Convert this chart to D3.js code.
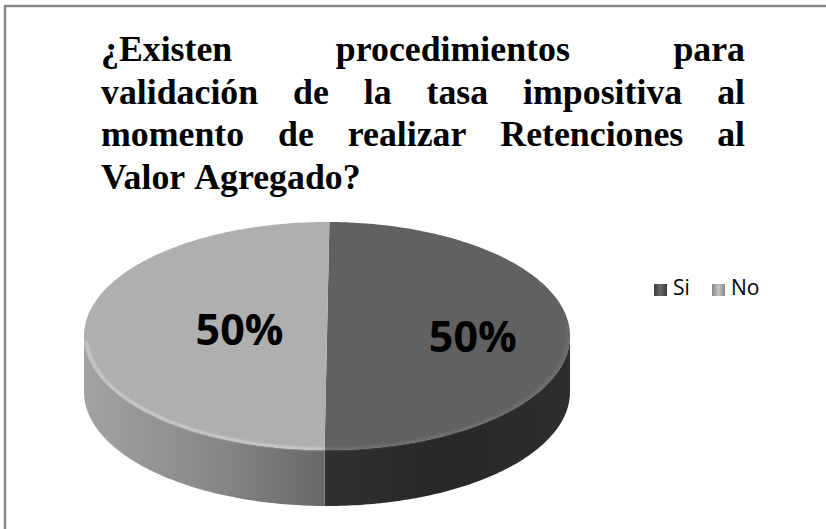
<!DOCTYPE html>
<meta charset="utf-8">
<style>
body { margin: 0; background: #fff; }
svg { display: block; }
.title { font-family: "Times New Roman", "Liberation Serif", Tinos, Times, serif; font-weight: bold; font-size: 35.8px; fill: #000; }
.label { font-family: "Open Sans", Lato, sans-serif; font-weight: bold; font-size: 43px; fill: #000; }
.legend text { font-family: "Open Sans", Lato, sans-serif; font-size: 21px; fill: #000; }
</style>
<body>
<script src="https://cdn.jsdelivr.net/npm/d3@7"></script>
<script>

var categories = ["Si", "No"];
var values = [50, 50];
var titleLines = [
  "¿Existen procedimientos para",
  "validación de la tasa impositiva al",
  "momento de realizar Retenciones al",
  "Valor Agregado?"
];

var width = 826, height = 529;
var cx = 327, cy = 336, rx = 243, ry = 114, depth = 56;
var tilt = 0.01;

var topColor = d3.scaleOrdinal().domain(categories).range(["#616161", "#afafaf"]);

var svg = d3.select("body").append("svg")
    .attr("width", width)
    .attr("height", height);

var defs = svg.append("defs");

function grad(id, stops, x1, x2) {
  var g = defs.append("linearGradient")
      .attr("id", id)
      .attr("gradientUnits", "userSpaceOnUse")
      .attr("x1", x1).attr("x2", x2).attr("y1", 0).attr("y2", 0);
  stops.forEach(function(s) {
    g.append("stop").attr("offset", s[0]).attr("stop-color", s[1]);
  });
}
grad("side-Si", [[0, "#313131"], [0.5, "#272727"], [1, "#2e2e2e"]], cx, cx + rx);
grad("side-No", [[0, "#a2a2a2"], [0.5, "#8a8a8a"], [1, "#686868"]], cx - rx, cx);
grad("leg-Si", [[0, "#3a3a3a"], [0.5, "#6a6a6a"], [1, "#3a3a3a"]], 0, 13);
grad("leg-No", [[0, "#888888"], [0.5, "#c6c6c6"], [1, "#888888"]], 0, 13);

defs.append("filter").attr("id", "soft")
  .append("feGaussianBlur").attr("stdDeviation", 1.2);

// frame (only top and left edges show in the crop)
svg.append("rect")
    .attr("x", 5).attr("y", 6)
    .attr("width", width + 20).attr("height", height + 20)
    .attr("fill", "none")
    .attr("stroke", "#878787")
    .attr("stroke-width", 2.5);

// justified title
var title = svg.append("g").attr("class", "title");
var tLeft = 101, tRight = 745, tTop = 61, tStep = 42.5;
titleLines.forEach(function(line, i) {
  var words = line.split(" ");
  var y = tTop + i * tStep;
  var nodes = words.map(function(w) {
    return title.append("text").attr("y", y).text(w);
  });
  var widths = nodes.map(function(n) { return n.node().getComputedTextLength(); });
  var gap = (i === titleLines.length - 1) ? 9 :
    (tRight - tLeft - d3.sum(widths)) / (words.length - 1);
  var x = tLeft;
  nodes.forEach(function(n, j) {
    n.attr("x", x);
    x += widths[j] + gap;
  });
});

// 3D pie
var pie = d3.pie().sort(null).startAngle(tilt).endAngle(tilt + 2 * Math.PI);
var arcs = pie(values).map(function(d, i) { d.cat = categories[i]; return d; });

function pt(a, r, dz) {
  r = r || 1; dz = dz || 0;
  return [cx + rx * r * Math.sin(a), cy - ry * r * Math.cos(a) + dz];
}
function arcPts(a0, a1, r, dz) {
  var n = Math.max(2, Math.ceil(Math.abs(a1 - a0) * 60));
  return d3.range(n + 1).map(function(k) { return pt(a0 + (a1 - a0) * k / n, r, dz); });
}
var line = d3.line();

// sides: only front half (pi/2 .. 3pi/2) is visible
var sides = svg.append("g");
arcs.forEach(function(d) {
  var a0 = Math.max(d.startAngle, Math.PI / 2);
  var a1 = Math.min(d.endAngle, 3 * Math.PI / 2);
  if (a1 <= a0) return;
  var pts = arcPts(a0, a1, 1, 0).concat(arcPts(a1, a0, 1, depth));
  sides.append("path")
      .attr("d", line(pts) + "Z")
      .attr("fill", "url(#side-" + d.cat + ")");
});

// top faces
var tops = svg.append("g");
arcs.forEach(function(d) {
  var pts = [[cx, cy]].concat(arcPts(d.startAngle, d.endAngle, 1, 0));
  tops.append("path")
      .attr("d", line(pts) + "Z")
      .attr("fill", topColor(d.cat));
});

// bevel highlight along the front rim
var rims = svg.append("g").attr("filter", "url(#soft)").attr("fill", "none");
rims.append("path")
    .attr("d", line(arcPts(Math.PI + tilt, 3 * Math.PI / 2 - 0.05, 0.99, 0)))
    .attr("stroke", "#d4d4d4").attr("stroke-width", 2);
rims.append("path")
    .attr("d", line(arcPts(Math.PI / 2 - 0.1, Math.PI + tilt, 0.99, 0)))
    .attr("stroke", "#747474").attr("stroke-width", 2);

// labels
var total = d3.sum(values);
var labelPos = { Si: { r: 0.6, dy: 0 }, No: { r: 0.36, dy: -7 } };
svg.append("g").selectAll("text")
    .data(arcs)
  .enter().append("text")
    .attr("class", "label")
    .attr("text-anchor", "middle")
    .attr("x", function(d) { return pt((d.startAngle + d.endAngle) / 2, labelPos[d.cat].r)[0]; })
    .attr("y", function(d) { return cy + 16 + labelPos[d.cat].dy; })
    .text(function(d) { return Math.round(d.value / total * 100) + "%"; });

// legend
var legX = d3.scaleOrdinal().domain(categories).range([654, 712]);
var legend = svg.append("g").attr("class", "legend")
  .selectAll("g").data(categories)
  .enter().append("g")
    .attr("transform", function(c) { return "translate(" + legX(c) + ",284)"; });
legend.append("rect")
    .attr("width", 13).attr("height", 12)
    .attr("fill", function(c) { return "url(#leg-" + c + ")"; });
legend.append("text")
    .attr("x", 19).attr("y", 11)
    .text(function(c) { return c; });

</script>
